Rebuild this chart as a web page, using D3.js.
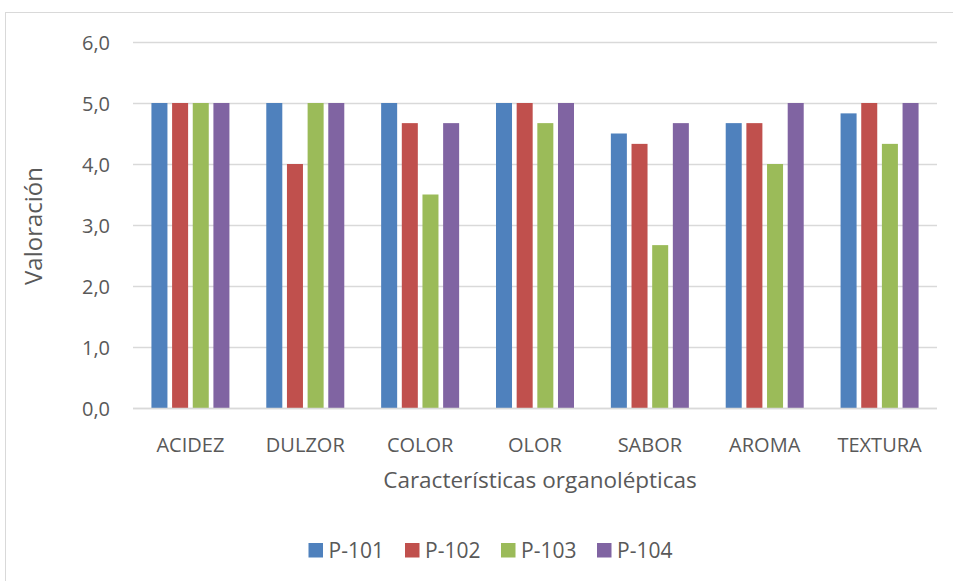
<!DOCTYPE html>
<html><head><meta charset="utf-8">
<script src="https://cdnjs.cloudflare.com/ajax/libs/d3/7.8.5/d3.min.js"></script>
<style>
html,body{margin:0;padding:0;background:#fff;}
svg{display:block;font-family:"Open Sans",sans-serif;}
</style></head>
<body>
<svg id="chart" width="953" height="581"></svg>
<script>
const categories = ["ACIDEZ","DULZOR","COLOR","OLOR","SABOR","AROMA","TEXTURA"];
const seriesNames = ["P-101","P-102","P-103","P-104"];
const p101 = [5, 5, 5, 5, 4.5, 4.67, 4.83];
const p102 = [5, 4, 4.67, 5, 4.33, 4.67, 5];
const p103 = [5, 5, 3.5, 4.67, 2.67, 4, 4.33];
const p104 = [5, 5, 4.67, 5, 4.67, 5, 5];
const yTicks = [0,1,2,3,4,5,6];
const colors = ["#4f81bd","#c0504d","#9bbb59","#8064a2"];
const yTitle = "Valoración";
const xTitle = "Características organolépticas";

(function(){
const seriesValues = [p101,p102,p103,p104];
const svg = d3.select("#chart");
const textColor = "#595959";

svg.append("rect").attr("x",5.5).attr("y",12.5).attr("width",1000).attr("height",1000)
  .attr("fill","none").attr("stroke","#d9d9d9").attr("stroke-width",1);

const pl=133, pr=937, pt=42, pb=408;
const x = d3.scaleBand().domain(categories).range([pl,pr]);
const xs = d3.scaleBand().domain(seriesNames).range([0,78]).paddingInner(0.225).paddingOuter(0);
const y = d3.scaleLinear().domain([0,6]).range([pb,pt]);

const yAxis = d3.axisLeft(y).tickValues(yTicks).tickSize(-(pr-pl)).tickFormat(d=>d3.format(".1f")(d).replace(".",","));
const gy = svg.append("g").attr("transform",`translate(${pl},0)`).call(yAxis);
gy.attr("font-family",null).attr("font-size",null);
gy.select(".domain").remove();
gy.selectAll(".tick line").attr("stroke","#d9d9d9").attr("stroke-width",1.5);
gy.selectAll(".tick text").attr("x",-23).attr("fill",textColor).style("font-size","20px").attr("dy","0.36em");

categories.forEach((c,i)=>{
  const gx0 = x(c) + (x.bandwidth()-78)/2;
  seriesNames.forEach((s,j)=>{
    const v = seriesValues[j][i];
    svg.append("rect")
      .attr("x", gx0 + xs(s))
      .attr("y", y(v))
      .attr("width", xs.bandwidth())
      .attr("height", y(0)-y(v))
      .attr("fill", colors[j]);
  });
});

svg.append("line").attr("x1",pl).attr("x2",pr).attr("y1",pb+0.5).attr("y2",pb+0.5)
  .attr("stroke","#d9d9d9").attr("stroke-width",1.5);

const xAxis = d3.axisBottom(x).tickSize(0).tickPadding(0);
const gx = svg.append("g").attr("transform",`translate(0,${pb})`).call(xAxis);
gx.attr("font-family",null).attr("font-size",null);
gx.select(".domain").remove();
gx.selectAll(".tick text").attr("y",44).attr("dy",0).attr("fill",textColor).style("font-size","20px");

svg.append("text").attr("x",540).attr("y",488).attr("text-anchor","middle")
  .attr("fill",textColor).style("font-size","22.5px").text(xTitle);
svg.append("text").attr("transform","translate(42,226) rotate(-90)").attr("text-anchor","middle")
  .attr("fill",textColor).style("font-size","24px").text(yTitle);

const legendX = [308.5,405,501,597];
seriesNames.forEach((s,j)=>{
  svg.append("rect").attr("x",legendX[j]).attr("y",543).attr("width",14.5).attr("height",14.5).attr("fill",colors[j]);
  svg.append("text").attr("x",legendX[j]+20).attr("y",558).attr("fill",textColor).style("font-size","21px").text(s);
});
})();
</script>
</body></html>
